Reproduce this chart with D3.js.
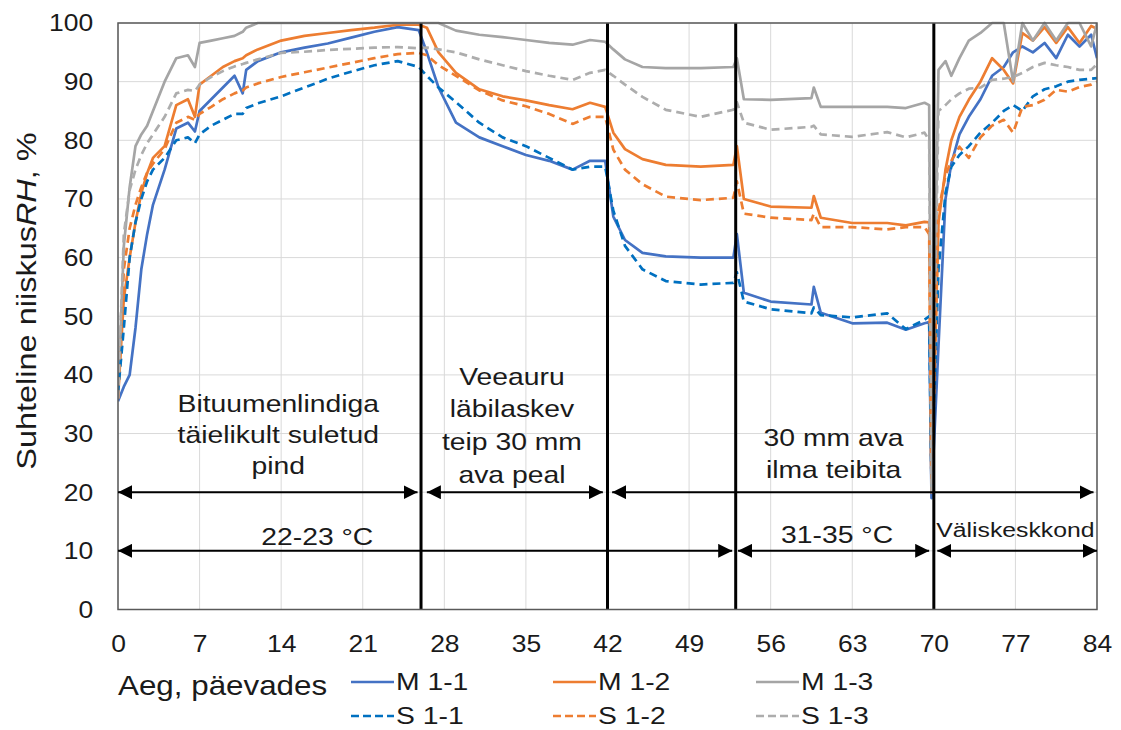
<!DOCTYPE html>
<html>
<head>
<meta charset="utf-8">
<script src="https://cdn.jsdelivr.net/npm/d3@7"></script>
<style>
  body { margin: 0; background: #fff; }
  text { font-family: "Liberation Sans", Arial, sans-serif; fill: #1a1a1a; }
</style>
</head>
<body>
<div id="chart"></div>
<script>
// days of measurement (shared by all series)
var days = [0, 0.5, 1, 1.5, 2, 2.5, 3, 4, 5, 6,
  6.6, 7, 8, 9, 10, 10.7, 11, 12, 14, 16,
  18, 20, 22, 24, 25.8, 26.5, 27.5, 29, 31, 33,
  35, 37, 39, 40.5, 41.8, 42.5, 43.5, 45, 47, 50,
  52.8, 53.1, 53.7, 56, 59.5, 59.7, 60.3, 63, 66, 67.6,
  69.2, 69.6, 69.8, 70.4, 71, 71.5, 72.2, 73, 74, 75,
  76, 76.8, 77.6, 78.5, 79.5, 80.5, 81.5, 82.5, 83.5, 84];

var m11 = [35.5, 38, 40, 48, 58, 64, 69, 75, 82, 83,
  81.5, 85, 87, 89, 91, 88, 92, 93.5, 95, 95.8,
  96.5, 97.5, 98.5, 99.3, 98.8, 95, 89, 83, 80.5, 79,
  77.5, 76.5, 75, 76.5, 76.5, 67, 63, 60.8, 60.2, 60,
  60, 64, 54, 52.5, 52, 55, 50.6, 48.8, 48.9, 47.7,
  48.8, 49, 19, 45, 70, 76, 81, 84, 87, 91,
  92.5, 95, 96, 95, 96.6, 94, 98, 96, 98, 94];
var m12 = [36, 53, 60, 66, 71, 74.4, 77, 79, 86, 87,
  84, 89.5, 91, 92.5, 93.5, 94, 94.5, 95.5, 97, 97.8,
  98.3, 98.8, 99.2, 99.7, 99.7, 99.2, 95, 91.5, 88.7, 87.5,
  86.8, 86, 85.3, 86.4, 85.7, 81.3, 78.5, 76.8, 75.8, 75.5,
  75.8, 79, 70, 68.7, 68.5, 70.5, 66.8, 65.9, 65.9, 65.5,
  66.1, 66, 20, 66, 75, 80, 84, 86.9, 90, 94,
  92, 89.7, 98.3, 97, 99.3, 96.6, 99.3, 96.6, 99.5, 99];
var m13 = [36, 62, 72, 79, 81, 82.5, 85, 90, 94, 94.5,
  92.5, 96.6, 97, 97.4, 97.8, 98.5, 99.2, 100, 100, 100,
  100, 100, 100, 100, 100, 100, 100, 98.7, 98, 97.6,
  97.1, 96.6, 96.3, 97.1, 96.8, 95.5, 93.8, 92.5, 92.3, 92.3,
  92.5, 94, 87, 86.9, 87.2, 89, 85.7, 85.7, 85.7, 85.5,
  86.4, 86, 22, 92, 93.5, 91, 94, 97, 98.3, 100,
  100, 90, 100, 97, 100, 97, 100, 100, 96, 100];
var s11 = [37, 48, 60, 66, 70, 73, 75, 77, 80, 80.5,
  79.5, 81, 82.5, 83.5, 84.5, 84.5, 85.5, 86.3, 87.5, 89,
  90.5, 91.7, 92.8, 93.5, 92.5, 91, 89, 86.5, 83, 80.5,
  79, 77, 75, 75.5, 75.5, 68, 62, 58, 56, 55.4,
  55.7, 57.5, 52.5, 51.2, 50.5, 51.5, 50.2, 49.8, 50.5, 47.8,
  49.4, 50, 21, 58, 71, 75.5, 77.5, 79, 81.3, 83,
  85, 86, 85, 87.5, 88.7, 89.2, 90, 90.3, 90.5, 90.6];
var s12 = [36, 58, 65, 69, 72, 74.5, 76, 78.5, 83, 84,
  83.5, 84.5, 85.7, 87, 88, 88.5, 89, 89.7, 90.8, 91.6,
  92.4, 93.2, 94, 94.7, 94.9, 94.5, 92.8, 91, 88.5, 86.8,
  85.8, 84.5, 82.8, 84, 84, 78.4, 75, 72.5, 70.4, 69.8,
  70.2, 73, 67.5, 66.8, 66.4, 67.5, 65.2, 65.2, 64.8, 65.2,
  65.2, 64, 20, 68, 74, 76.5, 78.9, 77, 80.5, 82.5,
  83.5, 81.3, 85.7, 86, 86.9, 88.6, 88.3, 89.1, 89.5, 90];
var s13 = [36, 64, 71.5, 75, 77.5, 79.5, 81, 84, 88, 88.6,
  88.4, 89.5, 90.8, 91.8, 92.6, 93, 93.2, 93.8, 94.9, 95.1,
  95.4, 95.6, 95.8, 95.9, 95.7, 95.8, 95.5, 95, 93.8, 92.8,
  91.8, 91, 90.3, 91.5, 92, 91, 89.5, 87.4, 85.2, 84,
  85.2, 86.5, 83, 81.8, 82.3, 82.5, 81, 80.6, 81.4, 80.5,
  81.3, 80, 20, 85, 86, 87, 88, 88.8, 89, 90.3,
  90.5, 90.8, 91.5, 92.5, 93.2, 92.8, 92.5, 92, 92, 93];

var seriesNames = ["M 1-1", "M 1-2", "M 1-3", "S 1-1", "S 1-2", "S 1-3"];
var seriesValues = [m11, m12, m13, s11, s12, s13];
var seriesColors = ["#4472C4", "#ED7D31", "#A5A5A5", "#0070C0", "#ED7D31", "#ADADAD"];

var xTicks = [0, 7, 14, 21, 28, 35, 42, 49, 56, 63, 70, 77, 84];
var yTicks = [0, 10, 20, 30, 40, 50, 60, 70, 80, 90, 100];
var stageDays = [26, 42, 53, 70];
var stageArrows = [[0, 25.7], [26.5, 41.6], [42.4, 83.7]];   // at RH 20
var tempArrows = [[0, 52.7], [53.2, 69.6], [70.3, 84]];      // at RH 10

var W = 1121, H = 730;
var pLeft = 118, pRight = 1097, pTop = 23, pBottom = 609.5;

var svg = d3.select("#chart").append("svg")
  .attr("width", W)
  .attr("height", H)
  .style("background", "#fff");

var x = d3.scaleLinear().domain([0, 84]).range([pLeft, pRight]);
var y = d3.scaleLinear().domain([0, 100]).range([pBottom, pTop]);

// stretched text, the original font runs wider than Arial
function txt(parent, s, px, py, size, anchor, sx, rot) {
  return parent.append("text")
    .attr("transform", "translate(" + px + "," + py + ")" + (rot ? " rotate(" + rot + ")" : "") + " scale(" + sx + ",1)")
    .attr("text-anchor", anchor)
    .style("font-size", size + "px")
    .text(s);
}

// grid
svg.append("g").selectAll("line")
  .data(xTicks)
  .enter().append("line")
  .attr("x1", function(d) { return x(d); })
  .attr("x2", function(d) { return x(d); })
  .attr("y1", pTop).attr("y2", pBottom)
  .attr("stroke", "#d9d9d9").attr("stroke-width", 1);
svg.append("g").selectAll("line")
  .data(yTicks)
  .enter().append("line")
  .attr("x1", pLeft).attr("x2", pRight)
  .attr("y1", function(d) { return y(d); })
  .attr("y2", function(d) { return y(d); })
  .attr("stroke", "#d9d9d9").attr("stroke-width", 1);

// axes
var xAxis = svg.append("g")
  .attr("transform", "translate(0," + pBottom + ")")
  .call(d3.axisBottom(x).tickValues(xTicks).tickSize(0).tickPadding(25));
xAxis.select(".domain").remove();
xAxis.selectAll("text").style("font-size", "24.5px").attr("fill", "#1a1a1a")
  .attr("transform", "scale(1.08,1)");

var yAxis = svg.append("g")
  .attr("transform", "translate(" + pLeft + ",0)")
  .call(d3.axisLeft(y).tickValues(yTicks).tickSize(0).tickPadding(23));
yAxis.select(".domain").remove();
yAxis.selectAll("text").style("font-size", "24.5px").attr("fill", "#1a1a1a")
  .attr("transform", "scale(1.08,1)");

// series
svg.append("clipPath").attr("id", "plotclip")
  .append("rect").attr("x", pLeft).attr("y", pTop - 2)
  .attr("width", pRight - pLeft).attr("height", pBottom - pTop + 2);

var line = d3.line()
  .x(function(d, i) { return x(days[i]); })
  .y(function(d) { return y(d); });

var gSeries = svg.append("g").attr("clip-path", "url(#plotclip)");
seriesValues.forEach(function(vals, i) {
  gSeries.append("path")
    .attr("d", line(vals))
    .attr("fill", "none")
    .attr("stroke", seriesColors[i])
    .attr("stroke-width", 2.7)
    .attr("stroke-linejoin", "round")
    .attr("stroke-dasharray", i >= 3 ? "8,5" : null);
});

// stage boundaries
svg.append("g").selectAll("line")
  .data(stageDays)
  .enter().append("line")
  .attr("x1", function(d) { return x(d); })
  .attr("x2", function(d) { return x(d); })
  .attr("y1", pTop).attr("y2", pBottom)
  .attr("stroke", "#000").attr("stroke-width", 3);

// plot border
svg.append("rect")
  .attr("x", pLeft).attr("y", pTop)
  .attr("width", pRight - pLeft).attr("height", pBottom - pTop)
  .attr("fill", "none").attr("stroke", "#595959").attr("stroke-width", 1.5);

// arrows
var defs = svg.append("defs");
defs.append("marker")
  .attr("id", "arr")
  .attr("viewBox", "0 0 10 10")
  .attr("refX", 10).attr("refY", 5)
  .attr("markerWidth", 7).attr("markerHeight", 7)
  .attr("markerUnits", "strokeWidth")
  .attr("orient", "auto-start-reverse")
  .append("path").attr("d", "M0,0L10,5L0,10Z").attr("fill", "#000");

function arrows(list, level) {
  svg.append("g").selectAll("line")
    .data(list)
    .enter().append("line")
    .attr("x1", function(d) { return x(d[0]); })
    .attr("x2", function(d) { return x(d[1]); })
    .attr("y1", y(level)).attr("y2", y(level))
    .attr("stroke", "#000").attr("stroke-width", 2)
    .attr("marker-start", "url(#arr)")
    .attr("marker-end", "url(#arr)");
}
arrows(stageArrows, 20);
arrows(tempArrows, 10);

// annotations
var ann = svg.append("g");
function block(lines, day, rh, step, size) {
  lines.forEach(function(s, i) {
    txt(ann, s, x(day), y(rh) + i * step, size, "middle", 1.18);
  });
}
block(["Bituumenlindiga", "täielikult suletud", "pind"], 13.75, 33.7, 31, 24);
block(["Veeauru", "läbilaskev", "teip 30 mm", "ava peal"], 33.8, 38.3, 32.6, 24);
block(["30 mm ava", "ilma teibita"], 61.4, 27.9, 32, 24);
block(["22-23 °C"], 17.1, 11.0, 0, 24);
block(["31-35 °C"], 61.7, 11.3, 0, 24);
block(["Väliskeskkond"], 77.0, 12.4, 0, 21);

// axis titles
var yt = txt(svg, "", 36, 301, 28, "middle", 1.16, -90);
yt.append("tspan").text("Suhteline niiskus");
yt.append("tspan").style("font-style", "italic").text("RH");
yt.append("tspan").text(", %");

txt(svg, "Aeg, päevades", 118, 695, 28, "start", 1.12);

// legend
var legX = [351, 553, 756];
var legY = [682, 716];
var leg = svg.append("g");
seriesNames.forEach(function(name, i) {
  var lx = legX[i % 3], ly = legY[Math.floor(i / 3)];
  leg.append("line")
    .attr("x1", lx).attr("x2", lx + 43)
    .attr("y1", ly).attr("y2", ly)
    .attr("stroke", seriesColors[i]).attr("stroke-width", 2.6)
    .attr("stroke-dasharray", i >= 3 ? "8,4" : null);
  txt(leg, name, lx + 45, ly + 8, 24, "start", 1.18);
});
</script>
</body>
</html>
